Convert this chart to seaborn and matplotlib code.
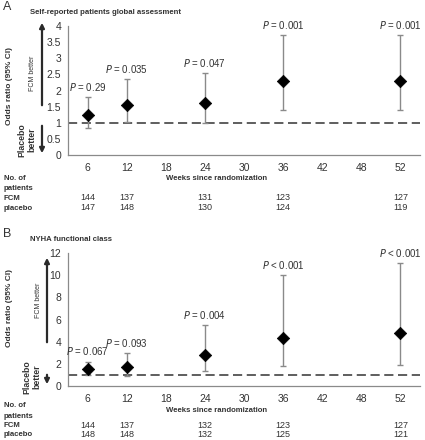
import matplotlib
matplotlib.use("Agg")
import matplotlib.pyplot as plt
import seaborn as sns
import pandas as pd
import numpy as np

# Data
tick_weeks = [6, 12, 18, 24, 30, 36, 42, 48, 52]
weeks = [6, 12, 24, 36, 52]

a_or = [1.25, 1.55, 1.60, 2.30, 2.30]
a_lo = [0.84, 1.02, 1.00, 1.40, 1.40]
a_hi = [1.79, 2.36, 2.53, 3.72, 3.72]
a_p = ["= 0.29", "= 0.035", "= 0.047", "= 0.001", "= 0.001"]
a_fcm = [144, 137, 131, 123, 127]
a_pla = [147, 148, 130, 124, 119]

b_or = [1.50, 1.68, 2.78, 4.30, 4.78]
b_lo = [1.00, 0.88, 1.39, 1.84, 1.89]
b_hi = [2.20, 3.00, 5.53, 9.97, 11.08]
b_p = ["= 0.067", "= 0.093", "= 0.004", "< 0.001", "< 0.001"]
b_fcm = [144, 137, 132, 123, 127]
b_pla = [148, 148, 132, 125, 121]

sns.set_style("white")
plt.rcParams['font.family'] = ['Liberation Sans Narrow', 'Liberation Sans', 'DejaVu Sans']

W, H = 425, 440
fig = plt.figure(figsize = (W / 100, H / 100), dpi = 100)

GRAY = '#8a8a8a'
TXT = '#333333'


def fig_text(x, y, s, **kw):
    # position in pixels from the top-left corner
    fig.text(x / W, 1 - y / H, s, **kw)


def arrow(x, y0, y1):
    fig.add_artist(matplotlib.patches.FancyArrowPatch(
        (x / W, 1 - y0 / H), (x / W, 1 - y1 / H), transform = fig.transFigure,
        arrowstyle = '-|>', mutation_scale = 7, lw = 1.6, color = '#2a2a2a'))


def panel(top, bottom, ors, los, his, pvals, fcm, pla, ymax, major, minor,
          letter, title, rows_y, arrow_up, arrow_dn, fcm_y, pla_y, ylab_y):
    ax = fig.add_axes([68 / W, 1 - bottom / H, 352 / W, (bottom - top) / H])
    df = pd.DataFrame({'week': weeks, 'or': ors, 'lo': los, 'hi': his, 'p': pvals})
    df['pos'] = [tick_weeks.index(w) for w in df['week']]

    ax.axhline(1, color = '#333333', lw = 1.1, linestyle = (0, (6, 3)), zorder = 1)
    ax.errorbar(df['pos'], df['or'], yerr = [df['or'] - df['lo'], df['hi'] - df['or']],
                fmt = 'none', ecolor = GRAY, elinewidth = 1, capsize = 2.5, capthick = 1, zorder = 2)
    sns.scatterplot(data = df, x = 'pos', y = 'or', marker = 'D', color = 'black',
                    s = 40, edgecolor = 'black', zorder = 3, ax = ax, legend = False)

    for _, r in df.iterrows():
        ax.annotate(r'$P$ ' + r['p'], (r['pos'], r['hi']), xytext = (0, 3),
                    textcoords = 'offset points', ha = 'center', va = 'bottom',
                    fontsize = 7, color = TXT)

    ax.set_xlim(-0.5, len(tick_weeks) - 0.5)
    ax.set_ylim(0, ymax)
    ax.set_xticks(range(len(tick_weeks)))
    ax.set_xticklabels(tick_weeks)
    ax.set_yticks(np.arange(0, ymax + 1e-9, major))
    ax.set_yticks(np.arange(0, ymax + 1e-9, minor), minor = True)
    ax.set_yticklabels([f'{v:g}' for v in np.arange(0, ymax + 1e-9, major)])
    ax.set_xlabel('')
    ax.set_ylabel('')
    ax.tick_params(axis = 'both', which = 'both', direction = 'out', length = 3,
                   width = 0.8, color = GRAY, labelsize = 7.5, labelcolor = TXT, pad = 2)
    ax.tick_params(axis = 'x', pad = 3)
    sns.despine(ax = ax)
    for s in ['left', 'bottom']:
        ax.spines[s].set_color(GRAY)
        ax.spines[s].set_linewidth(0.9)

    # headings
    fig_text(3, top - 19, letter, fontsize = 9, color = TXT, va = 'center')
    fig_text(30, top - 14, title, fontsize = 5.6, fontweight = 'bold', color = TXT, va = 'center')

    # left-hand annotations
    fig_text(10, ylab_y, 'Odds ratio (95% CI)', rotation = 90, fontsize = 6,
             fontweight = 'bold', color = TXT, ha = 'center', va = 'center')
    arrow(arrow_up[0], arrow_up[1], arrow_up[2])
    arrow(arrow_dn[0], arrow_dn[1], arrow_dn[2])
    fig_text(arrow_up[0] - 9, fcm_y, 'FCM better', rotation = 90, fontsize = 5,
             color = TXT, ha = 'center', va = 'center')
    fig_text(arrow_up[0] - 15, pla_y, 'Placebo\nbetter', rotation = 90, fontsize = 6.3,
             fontweight = 'bold', color = TXT, ha = 'center', va = 'center', linespacing = 1.2)

    # patient counts table
    y_weeks, y_no, y_pat, y_fcm, y_pla = rows_y
    fig_text(217, y_weeks, 'Weeks since randomization', fontsize = 5.6, fontweight = 'bold',
             color = TXT, ha = 'center', va = 'center')
    for yy, s in zip([y_no, y_pat, y_fcm, y_pla], ['No. of', 'patients', 'FCM', 'placebo']):
        fig_text(4, yy, s, fontsize = 5.6, fontweight = 'bold', color = TXT, va = 'center')
    for p, nf, npl in zip(df['pos'], fcm, pla):
        ax.annotate(str(nf), (p, 1 - y_fcm / H), xycoords = ('data', 'figure fraction'),
                    ha = 'center', va = 'center', fontsize = 6.5, color = TXT)
        ax.annotate(str(npl), (p, 1 - y_pla / H), xycoords = ('data', 'figure fraction'),
                    ha = 'center', va = 'center', fontsize = 6.5, color = TXT)
    return ax


panel(26, 155, a_or, a_lo, a_hi, a_p, a_fcm, a_pla, 4, 0.5, 0.5,
      'A', 'Self-reported patients global assessment',
      (178, 178, 188, 198, 208), (42, 108, 20), (42, 123, 156), 73, 140, 86)

panel(253, 386, b_or, b_lo, b_hi, b_p, b_fcm, b_pla, 12, 2, 1,
      'B', 'NYHA functional class',
      (410, 405, 416, 425, 434), (47, 345, 255), (47, 372, 387), 300, 377, 308)

fig.savefig('out.png', dpi = 100)
